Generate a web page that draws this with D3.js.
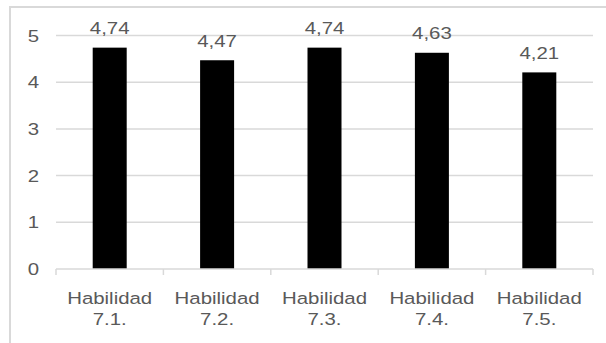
<!DOCTYPE html>
<html><head><meta charset="utf-8">
<script src="https://cdn.jsdelivr.net/npm/d3@7"></script>
<style>body{margin:0;background:#fff}svg{display:block}</style>
</head><body>
<script>
const categories = [["Habilidad","7.1."],["Habilidad","7.2."],["Habilidad","7.3."],["Habilidad","7.4."],["Habilidad","7.5."]];
const values = [4.74, 4.47, 4.74, 4.63, 4.21];
const valueLabels = ["4,74","4,47","4,74","4,63","4,21"];
const yTicks = [0,1,2,3,4,5];

(function(){
const W = 606, H = 343;
const svg = d3.select("body").append("svg").attr("width", W).attr("height", H);
svg.append("rect").attr("width", W).attr("height", H).attr("fill", "#fff");
// outer border (only top/left visible)
svg.append("rect").attr("x", 10).attr("y", 7).attr("width", 620).attr("height", 360)
  .attr("fill", "none").attr("stroke", "#d9d9d9").attr("stroke-width", 2);

const mLeft = 56, mRight = 593, mTop = 35.5, mBottom = 269;
const x = d3.scaleBand().domain(d3.range(categories.length)).range([mLeft, mRight]).paddingInner(0).paddingOuter(0);
const y = d3.scaleLinear().domain([0, 5]).range([mBottom, mTop]);
const font = "'Liberation Sans', Arial, sans-serif";
const textColor = "#595959";
const sx = 1.2;

// gridlines
svg.append("g").selectAll("line").data(yTicks.filter(d => d > 0)).join("line")
  .attr("x1", mLeft).attr("x2", mRight).attr("y1", d => y(d)).attr("y2", d => y(d))
  .attr("stroke", "#d9d9d9").attr("stroke-width", 1.5);

// y labels
svg.append("g").selectAll("text").data(yTicks).join("text")
  .attr("transform", d => `translate(39,${y(d)+6}) scale(${sx},1)`)
  .attr("text-anchor", "end").attr("font-family", font).attr("font-size", 17)
  .attr("fill", textColor).text(d => d);

// bars
const bw = 34;
svg.append("g").selectAll("rect").data(values).join("rect")
  .attr("x", (d, i) => x(i) + x.bandwidth()/2 - bw/2).attr("width", bw)
  .attr("y", d => y(d)).attr("height", d => y(0) - y(d)).attr("fill", "#000");

// x axis line and ticks
svg.append("line").attr("x1", mLeft).attr("x2", mRight).attr("y1", mBottom).attr("y2", mBottom)
  .attr("stroke", "#d9d9d9").attr("stroke-width", 1.5);
const bounds = d3.range(categories.length + 1).map(i => i < categories.length ? x(i) : x(i-1) + x.bandwidth());
svg.append("g").selectAll("line").data(bounds).join("line")
  .attr("x1", d => d).attr("x2", d => d).attr("y1", mBottom).attr("y2", mBottom + 6)
  .attr("stroke", "#d9d9d9").attr("stroke-width", 1.5);

// value labels
svg.append("g").selectAll("text").data(values).join("text")
  .attr("transform", (d, i) => `translate(${x(i) + x.bandwidth()/2},${y(d) - 13.5}) scale(${sx},1)`)
  .attr("text-anchor", "middle").attr("font-family", font).attr("font-size", 17)
  .attr("fill", textColor).text((d, i) => valueLabels[i]);

// category labels
const cg = svg.append("g").selectAll("g").data(categories).join("g");
cg.each(function(c, i) {
  const g = d3.select(this);
  c.forEach((line, k) => {
    g.append("text")
      .attr("transform", `translate(${x(i) + x.bandwidth()/2},${304 + k*21}) scale(${sx},1)`)
      .attr("text-anchor", "middle").attr("font-family", font).attr("font-size", 17)
      .attr("fill", textColor).text(line);
  });
});
})();
</script>
</body></html>
